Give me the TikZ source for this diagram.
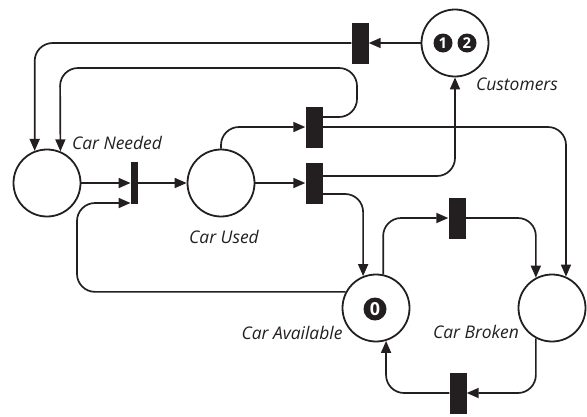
\documentclass[tikz,border=0pt]{standalone}
\usepackage{fontspec}
\setmainfont{Open Sans}
\usetikzlibrary{arrows.meta,calc}
\definecolor{ink}{HTML}{231F20}
\begin{document}
\begin{tikzpicture}[x=1bp,y=-1bp,
  place/.style={circle,draw=ink,line width=1.8bp,minimum size=67bp,inner sep=0pt},
  trans/.style={rectangle,fill=ink,minimum width=17bp,minimum height=41bp,inner sep=0pt},
  thin trans/.style={trans,minimum width=7.5bp,minimum height=42bp},
  arc/.style={draw=ink,line width=1.7bp,rounded corners=18bp,-{Triangle[length=12bp,width=10bp]}},
  tok/.style={circle,fill=ink,text=white,inner sep=0pt,font=\fontsize{15}{15}\selectfont\bfseries},
  lbl/.style={text=ink,inner sep=0pt,font=\fontsize{17.5}{20}\selectfont\itshape}]
\useasboundingbox (0,0) rectangle (587,416);
% places
\node[place] (CU) at (455,43) {};
\node[place] (CN) at (47,183) {};
\node[place] (US) at (221,183) {};
\node[place] (AV) at (376,308) {};
\node[place] (BR) at (552,308) {};
% tokens
\node[tok,minimum size=19bp] (k1) at (443,43) {1};
\node[tok,minimum size=19bp] (k2) at (467,43) {2};
\node[tok,minimum size=23bp,font=\fontsize{18}{18}\selectfont\bfseries] (k0) at (375,309) {0};
% transitions
\node[trans] (T1) at (360,43) {};
\node[trans] (T2) at (314,127) {};
\node[trans] (T3) at (314,183) {};
\node[thin trans] (T0) at (134.5,183) {};
\node[trans] (T4) at (457,218) {};
\node[trans] (T5) at (458,393) {};
% labels
\node[lbl] (lCN) at (117,143) {Car Needed};
\node[lbl] (lCU) at (517,84) {Customers};
\node[lbl] (lUS) at (224,237) {Car Used};
\node[lbl] (lAV) at (292,333) {Car Available};
\node[lbl] (lBR) at (476,332) {Car Broken};
% arcs
\draw[arc] (CU.west) -- (T1.east);
\draw[arc] (T1.west) -| (CN.111);
\draw[arc] ([yshift=10bp]T2.east) -- (357,117) |- (60,68) -- (CN.67);
\draw[arc] (CN.east) -- (T0.west);
\draw[arc] (T0.east) -- (US.west);
\draw[arc] (AV.152) -| (77,203) -- ([yshift=-20bp]T0.west);
\draw[arc] (US.north) |- (T2.west);
\draw[arc] (US.east) -- (T3.west);
\draw[arc] (T2.east) -| (BR.66);
\draw[arc] ([yshift=7bp]T3.east) -| (CU.south);
\draw[arc] ([yshift=-11bp]T3.east) -| (AV.112);
\draw[arc] (AV.78) |- (T4.west);
\draw[arc] (T4.east) -| (BR.118);
\draw[arc] (BR.242) |- (T5.east);
\draw[arc] (T5.west) -| (AV.-73);
\end{tikzpicture}
\end{document}
